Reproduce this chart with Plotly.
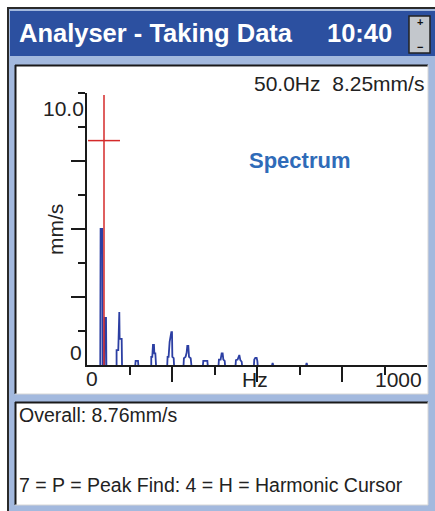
import plotly.graph_objects as go

W, H = 435, 511

# Spectrum outline vertices (frequency in Hz, amplitude in mm/s).
# None separates the individual peak clusters so no baseline is drawn between them.
freq_hz = [
    39, 40, 45, 46, None,
    51, 52, 56, 57, None,
    87, 87, 92, 93, 95, 96, 102, 103, None,
    142, 143, 150, 151, None,
    189, 189, 192, 194, 197, 198, 201, 203, None,
    236, 237, 240, 243, 248, 250, 251, 255, 256, None,
    284, 285, 290, 293, 295, 298, 300, 305, 307, None,
    341, 342, 354, 355, None,
    387, 388, 393, 396, 399, 401, 405, 406, None,
    437, 438, 443, 446, 448, 451, 455, 456, None,
    491, 492, 495, 499, 501, 502, None,
    544, 546, 548, None,
    644, 646, 648,
]
amp_mm_s = [
    0, 5.0, 5.0, 0, None,
    0, 1.73, 1.73, 0, None,
    0, 0.55, 0.55, 1.95, 1.95, 0.96, 0.96, 0, None,
    0, 0.15, 0.15, 0, None,
    0, 0.30, 0.30, 0.74, 0.74, 0.43, 0.43, 0, None,
    0, 0.30, 0.30, 0.85, 1.21, 1.21, 0.30, 0.25, 0, None,
    0, 0.25, 0.30, 0.45, 0.70, 0.70, 0.30, 0.25, 0, None,
    0, 0.15, 0.15, 0, None,
    0, 0.20, 0.20, 0.43, 0.43, 0.20, 0.15, 0, None,
    0, 0.18, 0.20, 0.37, 0.37, 0.18, 0.12, 0, None,
    0, 0.20, 0.26, 0.26, 0.15, 0, None,
    0, 0.07, 0, None,
    0, 0.07, 0,
]

# Cursor readout
cursor_hz = 50.0
cursor_amp = 8.25
cursor_half_width_hz = 47.0
cursor_top = 9.93

# Axis scales and ticks
x_range = [0, 1000]
y_range = [0, 10]
x_major_ticks = [250, 500, 750]
x_minor_ticks = [125, 375, 625, 875]
y_major_ticks = [2.5, 5.0, 7.5]
y_minor_ticks = [1.25, 3.75, 6.25, 8.75, 10.0]

title_text = "Analyser - Taking Data"
clock_text = "10:40"
readout_text = f"{cursor_hz:.1f}Hz  {cursor_amp:.2f}mm/s"
overall_text = "Overall: 8.76mm/s"
help_text = "7 = P = Peak Find: 4 = H = Harmonic Cursor"

FONT = "Liberation Sans"
INK = "#1a1a1a"
TEXT_INK = "#222222"
BAND = "#a3b9de"
TITLE_BLUE = "#2c50a0"
TRACE_BLUE = "#2c3fa3"
CURSOR_RED = "#d42a2a"


def px(x):
    return x / W


def py(y):
    return 1 - y / H


def rect(x0, y0, x1, y1, fill, line_color=None, line_width=0):
    return dict(type="rect", xref="paper", yref="paper",
                x0=px(x0), x1=px(x1), y0=py(y1), y1=py(y0),
                fillcolor=fill, layer="below",
                line=dict(color=line_color or fill, width=line_width))


def hline(x0, x1, y, color, width):
    return dict(type="line", xref="paper", yref="paper",
                x0=px(x0), x1=px(x1), y0=py(y), y1=py(y), layer="below",
                line=dict(color=color, width=width))


def vline(x, y0, y1, color, width):
    return dict(type="line", xref="paper", yref="paper",
                x0=px(x), x1=px(x), y0=py(y0), y1=py(y1), layer="below",
                line=dict(color=color, width=width))


def label(text, x, y, size, color=TEXT_INK, xanchor="left", bold=False, angle=0, family=FONT):
    return dict(text=f"<b>{text}</b>" if bold else text,
                x=px(x), y=py(y), xref="paper", yref="paper",
                xanchor=xanchor, yanchor="middle", showarrow=False,
                textangle=angle, borderpad=0,
                font=dict(family=family, size=size, color=color))


fig = go.Figure()

# Spectrum
fig.add_trace(go.Scatter(
    x=freq_hz, y=amp_mm_s, mode="lines", connectgaps=False,
    line=dict(color=TRACE_BLUE, width=1.8), hoverinfo="skip", showlegend=False,
))

# Cursor cross-hair
fig.add_trace(go.Scatter(
    x=[cursor_hz, cursor_hz], y=[0, cursor_top], mode="lines",
    line=dict(color=CURSOR_RED, width=1.5), hoverinfo="skip", showlegend=False,
))
fig.add_trace(go.Scatter(
    x=[cursor_hz - cursor_half_width_hz, cursor_hz + cursor_half_width_hz],
    y=[cursor_amp, cursor_amp], mode="lines",
    line=dict(color=CURSOR_RED, width=1.5), hoverinfo="skip", showlegend=False,
))

shapes = [
    # window frame and title bar
    rect(8, 8, 445, 520, BAND, "#2a2a2a", 2),
    rect(10, 11, 440, 56, TITLE_BLUE),
    # scroll indicator in the title bar
    dict(type="rect", xref="paper", yref="paper", x0=px(409), x1=px(430),
         y0=py(53), y1=py(16), fillcolor="#c3c7cc", layer="above",
         line=dict(color="#222222", width=1.5)),
    # chart panel
    rect(15, 65, 428, 394, "white"),
    hline(15, 428, 65.5, INK, 2),
    vline(15.5, 65, 394, INK, 2),
    hline(15, 428, 394, "#d6d6d6", 1),
    vline(428, 65, 394, "#d6d6d6", 1),
    # status panel
    rect(15, 402, 428, 505, "white"),
    hline(15, 428, 402.5, INK, 2),
    vline(15.5, 402, 505, INK, 2),
    hline(15, 428, 505, "#d6d6d6", 1),
    vline(428, 402, 505, "#d6d6d6", 1),
]

annotations = [
    label(title_text, 18, 33, 25.5, color="white", bold=True),
    label(clock_text, 393, 33, 25.5, color="white", bold=True, xanchor="right"),
    label("+", 419.5, 22, 11, color="#111111", xanchor="center", bold=True),
    label("\u2212", 419.5, 47, 11, color="#111111", xanchor="center", bold=True),
    label(readout_text, 425, 83, 21, xanchor="right"),
    label("Spectrum", 248, 161, 22, color="#2f6bb8", bold=True),
    label("10.0", 85, 108, 21, xanchor="right"),
    label("0", 83, 352, 21, xanchor="right"),
    label("mm/s", 55, 230, 21, xanchor="center", angle=-90),
    label("0", 92, 378, 21, xanchor="center"),
    label("Hz", 255, 379, 21, xanchor="center"),
    label("1000", 423, 379, 21, xanchor="right"),
    label(overall_text, 18, 415, 19.5),
    label(help_text, 18, 485, 19.5),
]

axis_common = dict(
    showgrid=False, zeroline=False, showticklabels=False,
    showline=True, linecolor=INK, linewidth=2,
    ticks="outside", tickcolor=INK, tickwidth=2,
    fixedrange=True,
)

fig.update_layout(
    width=W, height=H,
    margin=dict(l=0, r=0, t=0, b=0),
    paper_bgcolor="white",
    plot_bgcolor="rgba(0,0,0,0)",
    showlegend=False,
    shapes=shapes,
    annotations=annotations,
    xaxis=dict(
        domain=[px(87), px(427)], range=x_range,
        tickmode="array", tickvals=x_major_ticks, ticklen=15,
        minor=dict(tickmode="array", tickvals=x_minor_ticks, ticklen=8,
                   ticks="outside", tickcolor=INK, tickwidth=2, showgrid=False),
        **axis_common,
    ),
    yaxis=dict(
        domain=[py(365), py(93)], range=y_range,
        tickmode="array", tickvals=y_major_ticks, ticklen=14,
        minor=dict(tickmode="array", tickvals=y_minor_ticks, ticklen=7,
                   ticks="outside", tickcolor=INK, tickwidth=2, showgrid=False),
        **axis_common,
    ),
)

fig.write_html("out.html")
